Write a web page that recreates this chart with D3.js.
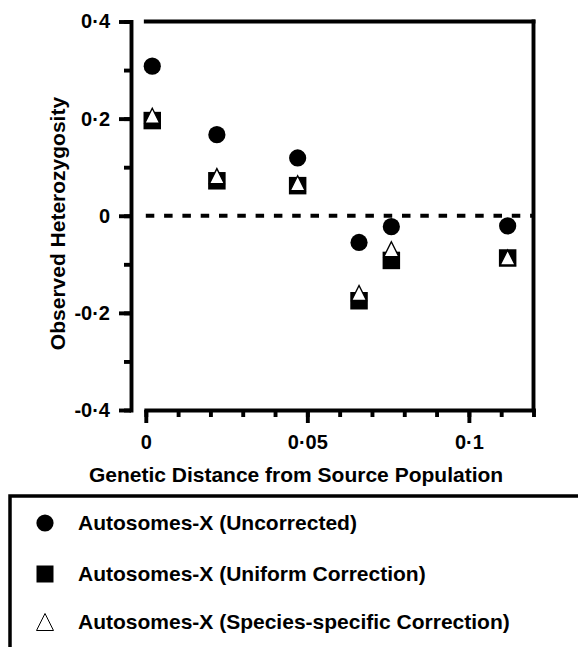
<!DOCTYPE html>
<html>
<head>
<meta charset="utf-8">
<script src="https://cdn.jsdelivr.net/npm/d3@7/dist/d3.min.js"></script>
<style>
  html, body { margin: 0; padding: 0; background: #fff; }
  svg { display: block; }
  text { font-family: "Liberation Sans", Arial, Helvetica, sans-serif; font-weight: bold; fill: #000; }
</style>
</head>
<body>
<script>
// ---- data ----
const distances = [0.002, 0.022, 0.047, 0.066, 0.076, 0.112];
const uncorrected = [0.308, 0.167, 0.119, -0.055, -0.0225, -0.021];
const uniformCorrection = [0.196, 0.072, 0.062, -0.175, -0.092, -0.087];
const speciesCorrection = [0.206, 0.0815, 0.067, -0.159, -0.069, -0.086];
const seriesNames = [
  "Autosomes-X (Uncorrected)",
  "Autosomes-X (Uniform Correction)",
  "Autosomes-X (Species-specific Correction)"
];
const xMajorTicks = [0, 0.05, 0.1];
const yMajorTicks = [-0.4, -0.2, 0, 0.2, 0.4];
const xMinorTicks = d3.range(0, 13).map(i => i / 100);
const yMinorTicks = d3.range(-4, 5).map(i => i / 10);
const xTitle = "Genetic Distance from Source Population";
const yTitle = "Observed Heterozygosity";

// ---- layout ----
const W = 578, H = 647;
const svg = d3.select("body").append("svg").attr("width", W).attr("height", H);

const x = d3.scaleLinear().domain([0, 0.12]).range([145.8, 533.5]);
const y = d3.scaleLinear().domain([-0.4, 0.4]).range([410, 21.5]);
const yAxisX = 131;
const SW = 3.9;

const fmt = d => (Math.abs(d) < 1e-9 ? "0" : String(+d.toFixed(3)).replace(".", "\u00B7"));

// Y axis minor
svg.append("g").attr("transform", `translate(${yAxisX},0)`)
  .call(d3.axisLeft(y).tickValues(yMinorTicks).tickSize(7).tickSizeOuter(0).tickFormat(""))
  .call(g => g.select(".domain").remove())
  .call(g => g.selectAll("line").attr("stroke", "#000").attr("stroke-width", SW));
// Y axis major
svg.append("g").attr("transform", `translate(${yAxisX},0)`)
  .call(d3.axisLeft(y).tickValues(yMajorTicks).tickSize(12).tickSizeOuter(0).tickPadding(9).tickFormat(fmt))
  .call(g => g.select(".domain").attr("stroke", "#000").attr("stroke-width", SW).attr("stroke-linecap", "square"))
  .call(g => g.selectAll("line").attr("stroke", "#000").attr("stroke-width", SW))
  .call(g => g.selectAll("text").attr("font-size", 20));

// X axis minor
svg.append("g").attr("transform", `translate(0,${y(-0.4)})`)
  .call(d3.axisBottom(x).tickValues(xMinorTicks).tickSize(7).tickSizeOuter(0).tickFormat(""))
  .call(g => g.select(".domain").remove())
  .call(g => g.selectAll("line").attr("stroke", "#000").attr("stroke-width", SW));
// X axis major
svg.append("g").attr("transform", `translate(0,${y(-0.4)})`)
  .call(d3.axisBottom(x).tickValues(xMajorTicks).tickSize(13).tickSizeOuter(0).tickPadding(12).tickFormat(fmt))
  .call(g => g.select(".domain").attr("stroke", "#000").attr("stroke-width", SW).attr("stroke-linecap", "square"))
  .call(g => g.selectAll("line").attr("stroke", "#000").attr("stroke-width", SW))
  .call(g => g.selectAll("text").attr("font-size", 20));

// top and right frame
svg.append("line")
  .attr("x1", x(0)).attr("x2", x(0.12)).attr("y1", y(0.4)).attr("y2", y(0.4))
  .attr("stroke", "#000").attr("stroke-width", SW).attr("stroke-linecap", "square");
svg.append("line")
  .attr("x1", x(0.12)).attr("x2", x(0.12)).attr("y1", y(0.4)).attr("y2", y(-0.4))
  .attr("stroke", "#000").attr("stroke-width", SW).attr("stroke-linecap", "square");

// zero dashed line
svg.append("line")
  .attr("x1", x(0)).attr("x2", x(0.12)).attr("y1", y(0)).attr("y2", y(0))
  .attr("stroke", "#000").attr("stroke-width", 4).attr("stroke-dasharray", "8.5,9.8");

// axis titles
svg.append("text")
  .attr("x", 296).attr("y", 481.5).attr("text-anchor", "middle").attr("font-size", 21)
  .text(xTitle);
svg.append("text")
  .attr("transform", "translate(65,223.5) rotate(-90)")
  .attr("text-anchor", "middle").attr("font-size", 21)
  .text(yTitle);

// symbols
const triangleType = {
  draw(ctx, size) {
    const w = Math.sqrt(size), h = w * 1.0;
    ctx.moveTo(0, -h / 2);
    ctx.lineTo(w / 2, h / 2);
    ctx.lineTo(-w / 2, h / 2);
    ctx.closePath();
  }
};
const circleSym = d3.symbol().type(d3.symbolCircle).size(Math.PI * 8.6 * 8.6);
const squareSym = d3.symbol().type(d3.symbolSquare).size(17.5 * 17.5);
const triSym = d3.symbol().type(triangleType).size(15 * 15);
const triLegendSym = d3.symbol().type(triangleType).size(17 * 17);

const pts = distances.map((d, i) => ({ d, u: uncorrected[i], s: uniformCorrection[i], t: speciesCorrection[i] }));

svg.append("g").selectAll("path").data(pts).join("path")
  .attr("d", circleSym).attr("transform", p => `translate(${x(p.d)},${y(p.u)})`).attr("fill", "#000");
svg.append("g").selectAll("path").data(pts).join("path")
  .attr("d", squareSym).attr("transform", p => `translate(${x(p.d)},${y(p.s)})`).attr("fill", "#000");
svg.append("g").selectAll("path").data(pts).join("path")
  .attr("d", triSym).attr("transform", p => `translate(${x(p.d)},${y(p.t)})`)
  .attr("fill", "#fff").attr("stroke", "#000").attr("stroke-width", 1.4).attr("stroke-linejoin", "miter");

// legend
svg.append("rect")
  .attr("x", 10).attr("y", 496).attr("width", 620).attr("height", 220)
  .attr("fill", "none").attr("stroke", "#000").attr("stroke-width", 3.5);

const legendRows = [523, 574, 622];
const legendSyms = [
  { sym: circleSym, fill: "#000", stroke: "none", sw: 0 },
  { sym: d3.symbol().type(d3.symbolSquare).size(17 * 17), fill: "#000", stroke: "none", sw: 0 },
  { sym: triLegendSym, fill: "#fff", stroke: "#000", sw: 1 }
];
const lg = svg.append("g").selectAll("g").data(seriesNames).join("g")
  .attr("transform", (d, i) => `translate(0,${legendRows[i]})`);
lg.append("path")
  .attr("d", (d, i) => legendSyms[i].sym())
  .attr("transform", "translate(45,0)")
  .attr("fill", (d, i) => legendSyms[i].fill)
  .attr("stroke", (d, i) => legendSyms[i].stroke)
  .attr("stroke-width", (d, i) => legendSyms[i].sw);
lg.append("text").attr("x", 78).attr("y", 6.5).attr("font-size", 21).text(d => d);
</script>
</body>
</html>
